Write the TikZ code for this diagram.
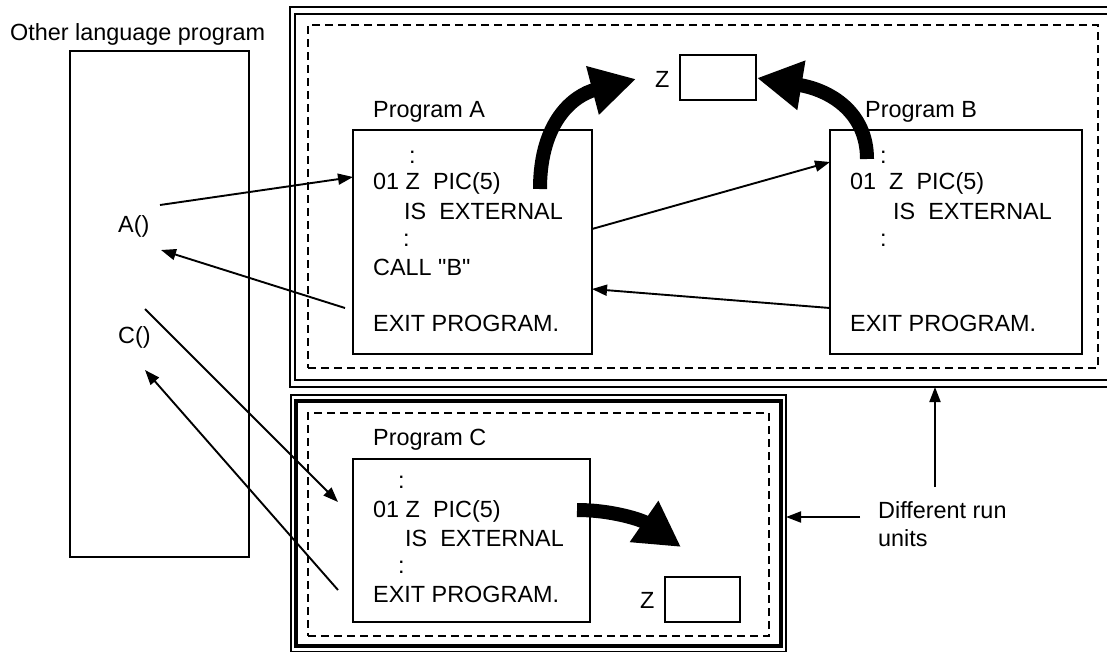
\documentclass[tikz,border=0pt]{standalone}
\usepackage{fontspec}
\newfontfamily\plainsans{Liberation Sans}
\usetikzlibrary{arrows.meta}
\begin{document}
\begin{tikzpicture}[x=1pt,y=-1pt,
  txt/.style={anchor=base west,inner sep=0pt,font=\plainsans\fontsize{23.4}{27}\selectfont},
  box/.style={draw,line width=1.8pt,anchor=north west,inner sep=0pt,outer sep=0pt},
  frameo/.style={draw,line width=1.5pt,anchor=north west,inner sep=0pt,outer sep=0pt},
  framei/.style={draw,line width=2.4pt,anchor=north west,inner sep=0pt,outer sep=0pt},
  dashbox/.style={draw,line width=1.9pt,dash pattern=on 8pt off 5pt,anchor=north west,inner sep=0pt,outer sep=0pt},
  smallarrow/.style={line width=1.9pt,-{Triangle[length=15pt,width=11pt]}},
  bigarrow/.style={line width=14pt,-{Triangle[length=45pt,width=47pt]}},
]
\useasboundingbox (0,0) rectangle (1107,651);
\clip (0,0) rectangle (1107,651);

% run unit frames
\node[frameo,minimum width=830pt,minimum height=380pt] (ru1o) at (290,7) {};
\node[framei,minimum width=825pt,minimum height=366pt] (ru1i) at (295,14) {};
\node[dashbox,minimum width=790pt,minimum height=343pt] (ru1d) at (308,25) {};
\node[frameo,minimum width=495pt,minimum height=257pt] (ru2o) at (291,395) {};
\node[framei,line width=3.2pt,minimum width=485pt,minimum height=245pt] (ru2i) at (296,401) {};
\node[dashbox,minimum width=461pt,minimum height=223pt] (ru2d) at (308,413) {};

% other language program
\node[txt] (otherlbl) at (10,40) {Other language program};
\node[box,minimum width=179pt,minimum height=506pt] (other) at (70,51) {};
\node[txt] (acall) at (118,232) {A()};
\node[txt] (ccall) at (118,343) {C()};

% Program A
\node[txt] (palbl) at (373,117) {Program A};
\node[box,minimum width=239pt,minimum height=224pt] (pa) at (353,130) {};
\node[txt] (pa1) at (409,163) {:};
\node[txt] (pa2) at (373,189) {01 Z\ \ PIC(5)};
\node[txt] (pa3) at (404,219) {IS\ \ EXTERNAL};
\node[txt] (pa4) at (403,246) {:};
\node[txt] (pa5) at (373,275) {CALL "B"};
\node[txt] (pa6) at (373,331) {EXIT PROGRAM.};

% Program B
\node[txt] (pblbl) at (865,117) {Program B};
\node[box,minimum width=252pt,minimum height=224pt] (pb) at (830,130) {};
\node[txt] (pb1) at (880,163) {:};
\node[txt] (pb2) at (850,189) {01\ \ Z\ \ PIC(5)};
\node[txt] (pb3) at (893,219) {IS\ \ EXTERNAL};
\node[txt] (pb4) at (880,246) {:};
\node[txt] (pb6) at (850,331) {EXIT PROGRAM.};

% shared Z
\node[txt] (zlbl) at (655,87) {Z};
\node[box,minimum width=76pt,minimum height=45pt] (z1) at (680,55) {};

% Program C
\node[txt] (pclbl) at (373,445) {Program C};
\node[box,minimum width=237pt,minimum height=163pt] (pc) at (353,459) {};
\node[txt] (pc1) at (398,488) {:};
\node[txt] (pc2) at (373,517) {01 Z\ \ PIC(5)};
\node[txt] (pc3) at (405,546) {IS\ \ EXTERNAL};
\node[txt] (pc4) at (398,573) {:};
\node[txt] (pc6) at (373,602) {EXIT PROGRAM.};
\node[txt] (z2lbl) at (640,608) {Z};
\node[box,minimum width=75pt,minimum height=45pt] (z2) at (665,577) {};

% Different run units
\node[txt] (diff) at (878,518) {Different run};
\node[txt] (diff2) at (878,546) {units};

% connector end points
\coordinate (aout) at (160,205);
\coordinate (ain) at (161,250);
\coordinate (cout) at (145,309);
\coordinate (cin) at (145,370);
\coordinate (pain) at (353,177);
\coordinate (paret) at (345,308);
\coordinate (paout) at (592,229);
\coordinate (paback) at (592,289);
\coordinate (pbin) at (830,162);
\coordinate (pbret) at (830,308);
\coordinate (pcin) at (338,502);
\coordinate (pcret) at (338,590);
\coordinate (d1) at (860,517);
\coordinate (d1t) at (786,517);
\coordinate (d2) at (935,487);
\coordinate (d2t) at (935,387);

% small arrows
\draw[smallarrow] (aout) -- (pain);
\draw[smallarrow] (paret) -- (ain);
\draw[smallarrow] (paout) -- (pbin);
\draw[smallarrow] (pbret) -- (paback);
\draw[smallarrow] (cout) -- (pcin);
\draw[smallarrow] (pcret) -- (cin);
\draw[smallarrow] (d1) -- (d1t);
\draw[smallarrow] (d2) -- (d2t);

% big arrows
\coordinate (ba1s) at (540,189);
\coordinate (ba1e) at (636,79);
\coordinate (ba2s) at (867,159);
\coordinate (ba2e) at (757,78);
\coordinate (ba3s) at (577,510);
\coordinate (ba3e) at (681,547);
\draw[bigarrow] (ba1s) .. controls (540,120) and (575,95) .. (ba1e);
\draw[bigarrow] (ba2s) .. controls (867,112) and (830,90) .. (ba2e);
\draw[bigarrow] (ba3s) .. controls (612,510) and (642,520) .. (ba3e);
\end{tikzpicture}
\end{document}
